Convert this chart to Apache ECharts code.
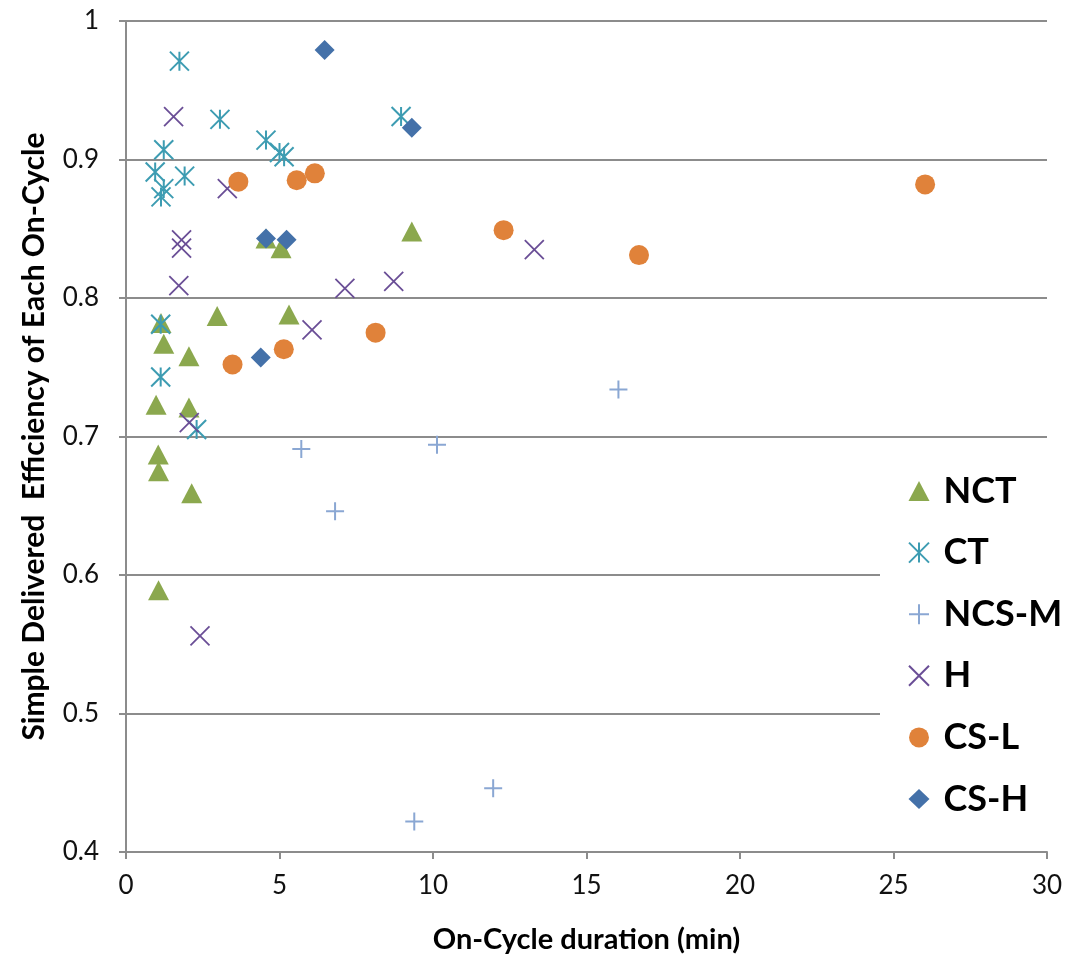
<!DOCTYPE html>
<html>
<head>
<meta charset="utf-8">
<script src="https://cdn.jsdelivr.net/npm/echarts@6/dist/echarts.min.js"></script>
<style>
  html, body { margin: 0; padding: 0; background: #fff; }
  #chart { width: 1067px; height: 959px; }
</style>
</head>
<body>
<div id="chart"></div>
<script>
// ---- data ----
const seriesNames = ["NCT", "CT", "NCS-M", "H", "CS-L", "CS-H"];

const nctX = [9.31, 4.56, 5.05, 1.14, 2.97, 5.31, 1.23, 2.05, 0.98, 2.05, 1.05, 1.06, 2.14, 1.06];
const nctY = [0.848, 0.843, 0.836, 0.782, 0.787, 0.788, 0.767, 0.758, 0.723, 0.721, 0.687, 0.675, 0.659, 0.589];

const ctX = [1.74, 3.06, 1.23, 4.56, 5.0, 5.15, 8.96, 0.95, 1.91, 1.23, 1.14, 1.13, 1.13, 2.30];
const ctY = [0.971, 0.929, 0.907, 0.914, 0.905, 0.902, 0.931, 0.891, 0.888, 0.879, 0.873, 0.781, 0.743, 0.705];

const ncsmX = [5.71, 10.13, 6.81, 11.96, 9.39, 16.04];
const ncsmY = [0.691, 0.694, 0.646, 0.446, 0.422, 0.734];

const hX = [1.55, 3.30, 1.81, 1.81, 1.72, 7.13, 8.72, 6.06, 2.06, 2.41, 13.30];
const hY = [0.931, 0.879, 0.842, 0.836, 0.809, 0.807, 0.812, 0.777, 0.710, 0.556, 0.835];

const cslX = [3.66, 5.56, 6.15, 3.47, 5.14, 8.13, 12.30, 16.71, 26.03];
const cslY = [0.884, 0.885, 0.890, 0.752, 0.763, 0.775, 0.849, 0.831, 0.882];

const cshX = [6.47, 9.31, 4.56, 5.23, 4.39];
const cshY = [0.979, 0.923, 0.843, 0.842, 0.757];

const xTicks = [0, 5, 10, 15, 20, 25, 30];
const yTicks = [0.4, 0.5, 0.6, 0.7, 0.8, 0.9, 1];

const xTitle = "On-Cycle duration (min)";
const yTitle = "Simple Delivered  Efficiency of Each On-Cycle";

// ---- build ----
function pairs(xs, ys) { return xs.map((x, i) => [x, ys[i]]); }

const FONT = "Lato";
const GRID = "#8c8c8c";

const ASTERISK = "path://M0,0L10,10M10,0L0,10M5,0L5,10";
const CROSS = "path://M0,0L10,10M10,0L0,10";
const PLUS = "path://M5,0L5,10M0,5L10,5";

const seriesDefs = [
  { data: pairs(nctX, nctY), symbol: "triangle", size: [21, 20], fill: "#8BA84E" },
  { data: pairs(ctX, ctY), symbol: ASTERISK, size: 19, stroke: "#3D9CB2", lw: 2 },
  { data: pairs(ncsmX, ncsmY), symbol: PLUS, size: 18, stroke: "#8AA7D3", lw: 2 },
  { data: pairs(hX, hY), symbol: CROSS, size: 19, stroke: "#6A4E96", lw: 1.8 },
  { data: pairs(cslX, cslY), symbol: "circle", size: 20, fill: "#E0823A" },
  { data: pairs(cshX, cshY), symbol: "diamond", size: 20, fill: "#4471A9" }
];

const series = seriesDefs.map((d, i) => ({
  name: seriesNames[i],
  type: "scatter",
  data: d.data,
  symbol: d.symbol,
  symbolSize: d.size,
  itemStyle: d.fill
    ? { color: d.fill, opacity: 1 }
    : { color: "rgba(0,0,0,0)", borderColor: d.stroke, borderWidth: d.lw, opacity: 1 },
  emphasis: { disabled: true },
  animation: false
}));

const chart = echarts.init(document.getElementById("chart"), null, { renderer: "canvas" });
chart.setOption({
  backgroundColor: "#fff",
  animation: false,
  grid: { left: 126, right: 20, top: 21, bottom: 105, containLabel: false },
  xAxis: {
    type: "value",
    min: xTicks[0], max: xTicks[xTicks.length - 1], interval: 5,
    name: xTitle, nameLocation: "middle", nameGap: 73,
    nameTextStyle: { fontFamily: FONT, fontWeight: "bold", fontSize: 29, color: "#000" },
    axisLine: { show: true, onZero: false, lineStyle: { color: GRID, width: 2 } },
    axisTick: { show: true, length: 7, lineStyle: { color: GRID, width: 2 } },
    axisLabel: { fontFamily: FONT, fontSize: 26, color: "#111", margin: 21 },
    splitLine: { show: false }
  },
  yAxis: {
    type: "value",
    min: yTicks[0], max: yTicks[yTicks.length - 1], interval: 0.1,
    name: yTitle, nameLocation: "middle", nameRotate: 90, nameGap: 77,
    nameTextStyle: { fontFamily: FONT, fontWeight: "bold", fontSize: 30, color: "#000" },
    axisLine: { show: true, onZero: false, lineStyle: { color: GRID, width: 2 } },
    axisTick: { show: true, length: 7, lineStyle: { color: GRID, width: 2 } },
    axisLabel: {
      fontFamily: FONT, fontSize: 26, color: "#111", margin: 27,
      formatter: v => String(Math.round(v * 10) / 10)
    },
    splitLine: { show: true, lineStyle: { color: GRID, width: 2 } }
  },
  legend: {
    orient: "vertical",
    left: 880, top: 463,
    padding: [10, 10, 10, 28],
    backgroundColor: "#fff",
    itemWidth: 21, itemHeight: 20,
    itemGap: 25.6,
    selectedMode: false,
    data: seriesNames,
    textStyle: { fontFamily: FONT, fontWeight: "bold", fontSize: 36, lineHeight: 36, color: "#000", padding: [0, 0, 0, 9] }
  },
  series: series
});
</script>
</body>
</html>
